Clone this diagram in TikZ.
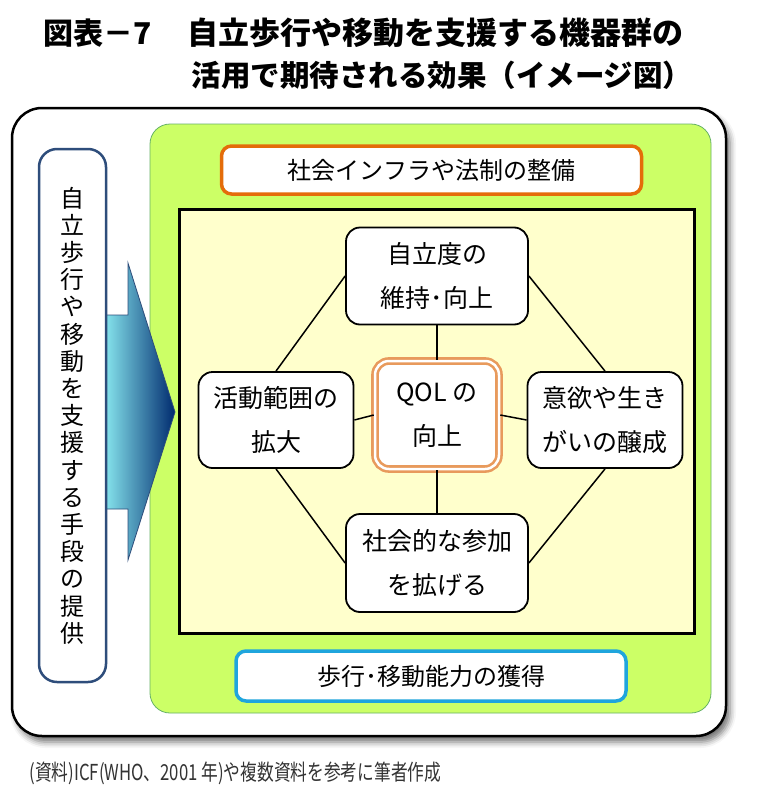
\documentclass[tikz,border=0pt]{standalone}
\usepackage{fontspec}
\setmainfont{Noto Sans CJK JP}
\usetikzlibrary{shadows.blur}
\definecolor{greenbg}{HTML}{CCFF66}
\definecolor{paleyel}{HTML}{FFFFCC}
\definecolor{infraorange}{HTML}{E46C0A}
\definecolor{qolorange}{HTML}{E89A5C}
\definecolor{walkcyan}{HTML}{1FA5DD}
\definecolor{navyline}{HTML}{2E4D7B}
\definecolor{arrowdark}{HTML}{002A6E}

\begin{document}
\begin{tikzpicture}[x=1pt,y=-1pt,outer/.style={draw=black,line width=2.5pt,fill=white,rounded corners=30pt,blur shadow={shadow xshift=4pt,shadow yshift=-6pt,shadow blur radius=6pt,shadow opacity=55}},field/.style={draw=black!50!green!60,line width=0.8pt,fill=greenbg,rounded corners=20pt},core/.style={draw=black,line width=3pt,fill=paleyel},band/.style={rectangle,rounded corners=10pt,fill=white,line width=3.5pt,minimum height=48pt,font=\fontsize{24}{24}\selectfont},effect/.style={rectangle,draw=black,line width=1.8pt,fill=white,rounded corners=14pt,minimum height=97pt,inner sep=0pt,align=center,font=\fontsize{25}{44}\selectfont},link/.style={draw=black,line width=1.5pt},]
        \useasboundingbox (0,0) rectangle (764,806);

        % title
        \node[anchor=west,font=\bfseries\fontsize{30}{30}\selectfont] (figno) at (40,33) {図表－7};
        \node[anchor=west,font=\bfseries\fontsize{31}{31}\selectfont] (title1) at (184,33) {自立歩行や移動を支援する機器群の};
        \node[anchor=west,font=\bfseries\fontsize{29.5}{29.5}\selectfont] (title2) at (188,75) {活用で期待される効果（イメージ図）};

        \draw[outer] (12,108) rectangle (726,736);
        \draw[field] (150,124) rectangle (711,713);
        \draw[core] (179,209) rectangle (694,633);

        % arrow
        \shade[left color=cyan!40,middle color=cyan!80!blue,right color=arrowdark,draw=navyline,line width=0.8pt]
        (95,315) -- (128,315) -- (128,263) -- (175,412) -- (128,560) -- (128,509) -- (95,509) -- cycle;

        \node[rectangle,draw=navyline,line width=2.5pt,fill=white,rounded corners=18pt,minimum width=67pt,minimum height=533pt,align=center,font=\fontsize{24}{27.2}\selectfont] (means) at (72.5,415.5)
        {自\\立\\歩\\行\\や\\移\\動\\を\\支\\援\\す\\る\\手\\段\\の\\提\\供};

        \node[band,draw=infraorange,minimum width=420pt] (infra) at (431.5,170) {社会インフラや法制の整備};
        \node[band,draw=walkcyan,minimum width=390pt,minimum height=50pt] (walk) at (431,676) {歩行･移動能力の獲得};

        \node[effect,minimum width=182pt] (top) at (437,276) {自立度の\\維持･向上};
        \node[effect,minimum width=155pt,minimum height=96pt] (left) at (276,420) {活動範囲の\\拡大};
        \node[effect,minimum width=155pt,minimum height=96pt] (right) at (605,420) {意欲や生き\\がいの醸成};
        \node[effect,minimum width=182pt,minimum height=98pt] (bottom) at (437,563) {社会的な参加\\を拡げる};
        \node[effect,draw=qolorange,double=white,double distance=2.5pt,line width=2.6pt,minimum width=124pt,minimum height=108pt] (qol) at (437,415) {QOL の\\向上};

        \draw[link] (top.west) -- (left.north);
        \draw[link] (top.east) -- (right.north);
        \draw[link] (left.south) -- (bottom.west);
        \draw[link] (right.south) -- (bottom.east);
        \draw[link] (top.south) -- (qol.north);
        \draw[link] (bottom.north) -- (qol.south);
        \draw[link] (left.east) -- (qol.west);
        \draw[link] (right.west) -- (qol.east);

        % source
        \node[anchor=west,text=black!80,font=\fontsize{22}{22}\selectfont] (source) at (26,773)
        {\scalebox{0.76}[1]{(資料)ICF(WHO、2001 年)や複数資料を参考に筆者作成}};
    \end{tikzpicture}
\end{document}
